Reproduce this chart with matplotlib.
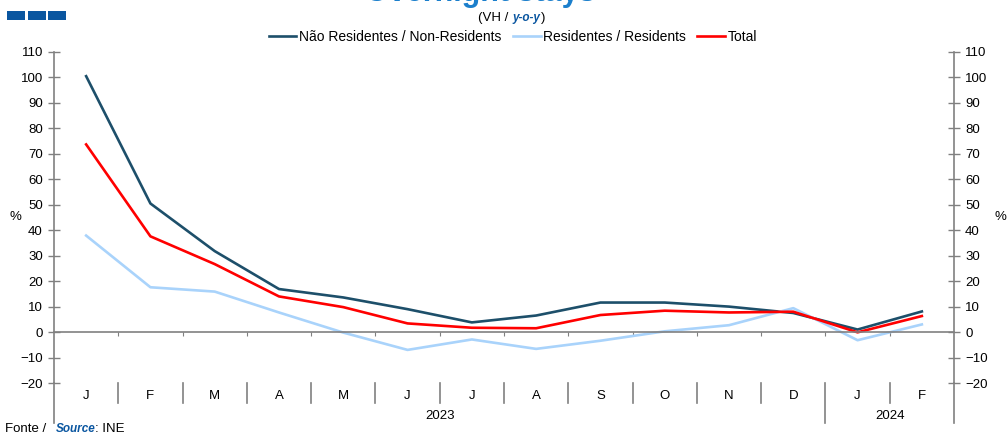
import matplotlib.pyplot as plt
import matplotlib.transforms as mtransforms
from matplotlib.patches import Rectangle

plt.rcParams["font.family"] = ["Liberation Sans", "DejaVu Sans"]

months = ["J", "F", "M", "A", "M", "J", "J", "A", "S", "O", "N", "D", "J", "F"]
years = ["2023", "2024"]
year_months = [12, 2]

non_residents = [100.5, 50.5, 31.8, 16.9, 13.6, 9.0, 3.8, 6.5, 11.6, 11.6, 10.0, 7.5, 1.0, 8.1]
residents = [37.9, 17.6, 15.9, 7.7, -0.2, -7.0, -2.9, -6.6, -3.4, 0.3, 2.7, 9.4, -3.2, 3.0]
total = [73.7, 37.6, 26.7, 14.0, 9.8, 3.4, 1.7, 1.5, 6.7, 8.4, 7.7, 8.0, -0.1, 6.3]

dark = "#1d4f6a"
light = "#a9d3fb"
red = "#ff0000"
grey = "#808080"
blue = "#0a56a0"

fig = plt.figure(figsize=(10.07, 4.37), dpi=100)
W, H = 1007, 437
ax = fig.add_axes([54 / W, (H - 383) / H, 900 / W, 331 / H])

x = list(range(len(months)))
ax.plot(x, non_residents, color=dark, lw=1.9, label="Não Residentes / Non-Residents")
ax.plot(x, residents, color=light, lw=1.9, label="Residentes / Residents")
ax.plot(x, total, color=red, lw=1.9, label="Total")

ax.set_xlim(-0.5, len(months) - 0.5)
ax.set_ylim(-20, 110)
ax.set_yticks(range(-20, 111, 10))
ax.tick_params(axis="y", direction="inout", length=8, width=1, color=grey,
               labelsize=9.5, labelcolor="#000000", left=True, right=True,
               labelleft=True, labelright=True, pad=4)

# zero line acts as the category axis
ax.spines["bottom"].set_position(("data", 0))
ax.spines["bottom"].set_color(grey)
ax.spines["top"].set_visible(False)
for s in ["left", "right"]:
    ax.spines[s].set_color(grey)
    ax.spines[s].set_linewidth(1.2)
ax.spines["bottom"].set_linewidth(1.2)
ax.set_xticks([i + 0.5 for i in x[:-1]])
ax.set_xticklabels([])
ax.tick_params(axis="x", direction="out", length=3, color=grey)

# category labels below the plot area
trans = mtransforms.blended_transform_factory(ax.transData, ax.transAxes)
for i, m in enumerate(months):
    ax.text(i, -0.04, m, transform=trans, ha="center", va="center", fontsize=9.5)
for b in range(len(months) + 1):
    bx = b - 0.5
    y_end = -0.06
    if b in (0, year_months[0], len(months)):
        y_end = -0.121
    ax.plot([bx, bx], [0, y_end], transform=trans, color=grey, lw=1.2, clip_on=False)
start = 0
for yr, n in zip(years, year_months):
    ax.text(start + (n - 1) / 2, -0.10, yr, transform=trans, ha="center",
            va="center", fontsize=9.5)
    start += n

fig.text(15 / W, 1 - 217 / H, "%", ha="center", va="center", fontsize=9.5)
fig.text(1000 / W, 1 - 217 / H, "%", ha="center", va="center", fontsize=9.5)

# header
for k in range(3):
    fig.patches.append(Rectangle(((7 + k * 20.5) / W, 1 - 20 / H), 18 / W, 9.5 / H,
                                 transform=fig.transFigure, facecolor=blue, lw=0))
fig.text(480 / W, 1 - 1 / H, "Overnight stays", ha="center", va="baseline",
         fontsize=22, fontweight="bold", color="#1b7fcc")
fig.text(508 / W, 1 - 18 / H, "(VH /", ha="right", va="center", fontsize=9.5)
fig.text(512 / W, 1 - 18 / H, "y-o-y", ha="left", va="center", fontsize=8.5,
         fontweight="bold", fontstyle="italic", color=blue)
fig.text(541 / W, 1 - 18 / H, ")", ha="left", va="center", fontsize=9.5)

fig.legend(loc="center", bbox_to_anchor=(513 / W, 1 - 37 / H), ncol=3, frameon=False,
           fontsize=10, handlelength=2.0, handletextpad=0.2, columnspacing=0.8)

# footer
fig.text(5 / W, 1 - 429 / H, "Fonte /", ha="left", va="center", fontsize=9.5)
fig.text(56 / W, 1 - 429 / H, "Source", ha="left", va="center", fontsize=8.5,
         fontweight="bold", fontstyle="italic", color=blue)
fig.text(95 / W, 1 - 429 / H, ": INE", ha="left", va="center", fontsize=9.5)

fig.savefig("out.png", dpi=100)
